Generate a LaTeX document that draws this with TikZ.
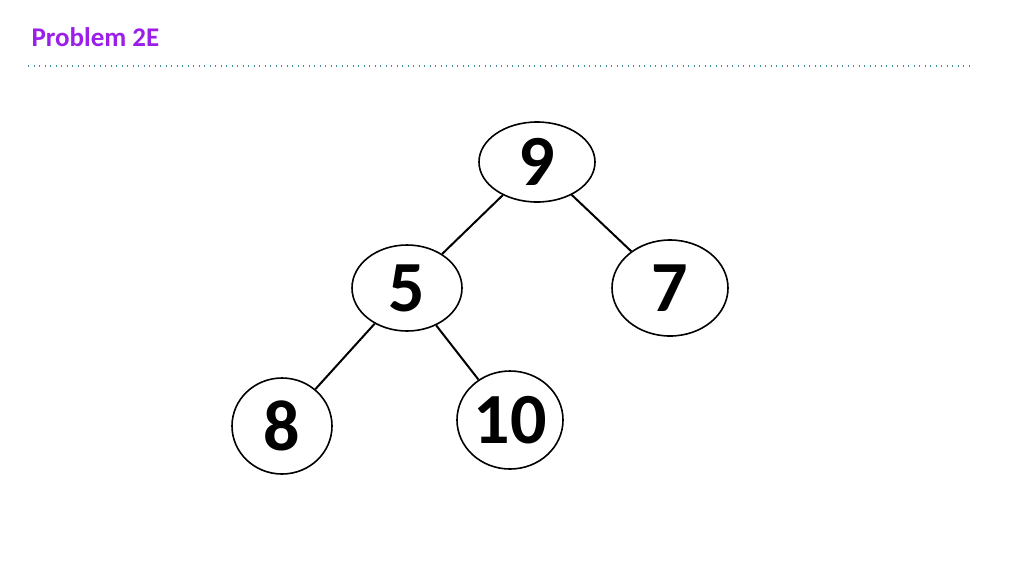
\documentclass[tikz,border=0pt]{standalone}
\usepackage{fontspec}
\setmainfont{Carlito}
\usetikzlibrary{shapes.geometric}
\definecolor{titlePurple}{HTML}{9B1FE8}
\definecolor{ruleTeal}{HTML}{3A8FA0}

\begin{document}
\begin{tikzpicture}[x=1pt,y=-1pt,
  treenode/.style={ellipse,draw,line width=1.6pt,inner sep=0pt,
    font=\fontsize{72}{72}\selectfont\bfseries},
  treeedge/.style={line width=2pt}]
  \useasboundingbox (0,0) rectangle (1024,576);
  % title
  \node[anchor=west,text=titlePurple,font=\fontsize{27}{27}\selectfont\bfseries] (title) at (28,37) {Problem 2E};
  \draw[ruleTeal,line width=1.2pt,dash pattern=on 1.2pt off 4.3pt] (28,66) -- (970,66);

  % tree
  \node[treenode,minimum width=116pt,minimum height=80pt] (n9) at (537,162) {9};
  \node[treenode,minimum width=110pt,minimum height=86pt] (n5) at (407,288) {5};
  \node[treenode,minimum width=116pt,minimum height=96pt] (n7) at (670,288) {7};
  \node[treenode,minimum width=100pt,minimum height=96pt] (n8) at (282,426) {8};
  \node[treenode,minimum width=106pt,minimum height=98pt] (n10) at (510,420) {10};

  \draw[treeedge] (n9) -- (n5);
  \draw[treeedge] (n9) -- (n7);
  \draw[treeedge] (n5) -- (n8);
  \draw[treeedge] (n5) -- (n10);
\end{tikzpicture}
\end{document}
